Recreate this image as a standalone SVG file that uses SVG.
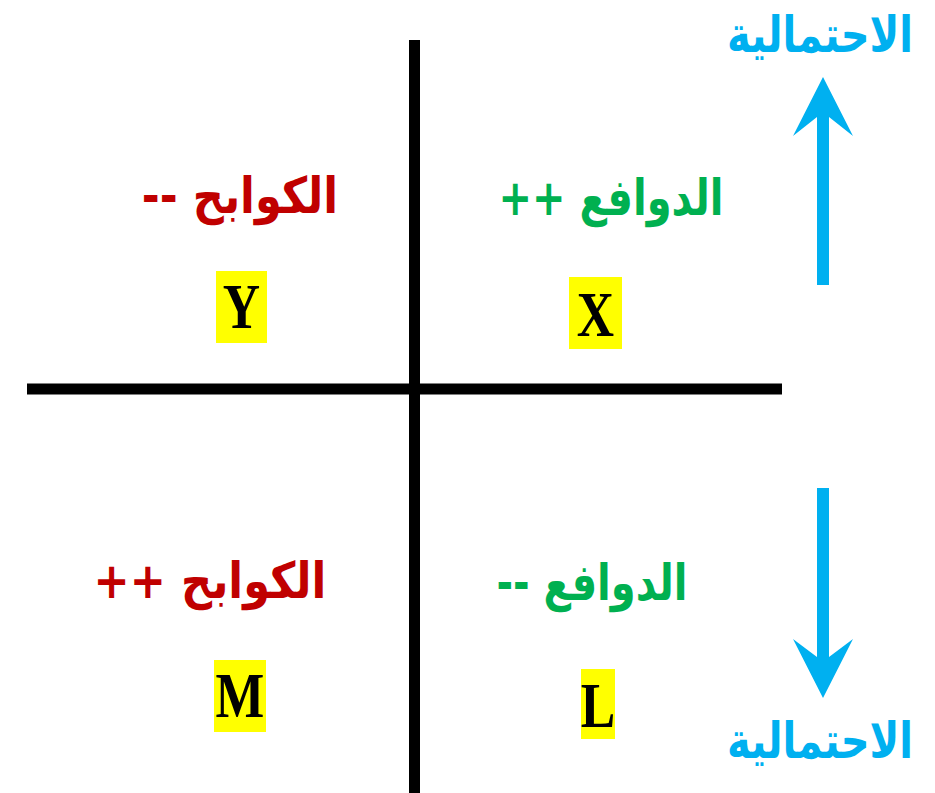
<svg xmlns="http://www.w3.org/2000/svg" width="935" height="793" viewBox="0 0 935 793">
<style>
.ar{font-family:"DejaVu Sans",sans-serif;font-weight:bold;font-size:40px;text-anchor:middle;direction:rtl;unicode-bidi:embed}
.red{fill:#C00000}
.green{fill:#00B050}
.blue{fill:#00B0F0}
.box{fill:#FFFF00}
.let{font-family:"Liberation Serif",serif;font-weight:bold;font-size:63px;text-anchor:middle;fill:#000}
.axis{stroke:#000;stroke-width:11;fill:none}
.arr{fill:#00B0F0}
</style>
<rect width="935" height="793" fill="#fff"/>
<g id="connectors">
<line class="axis" x1="414.5" y1="40" x2="414.5" y2="793"/>
<line class="axis" x1="27" y1="389" x2="782" y2="389"/>
<path id="arrow-up" class="arr" d="M817,285 L817,117 L793,136 L823,77 L853,136 L829,117 L829,285 Z"/>
<path id="arrow-down" class="arr" d="M817,488 L817,657 L793,639 L823,698 L853,639 L829,657 L829,488 Z"/>
</g>
<g id="label-top"><text class="ar blue" transform="translate(820,52) scale(1,1.25)">الاحتمالية</text></g>
<g id="label-bottom"><text class="ar blue" transform="translate(820,758) scale(1,1.25)">الاحتمالية</text></g>
<g id="q-top-left">
<text class="ar red" transform="translate(240,213) scale(1.08,1.25)">الكوابح --</text>
<rect class="box" x="216" y="271" width="51" height="72"/>
<text class="let" transform="translate(241.5,328) scale(0.82,1)">Y</text>
</g>
<g id="q-top-right">
<text class="ar green" transform="translate(611,215) scale(1,1.25)">الدوافع ++</text>
<rect class="box" x="569" y="277" width="53" height="72"/>
<text class="let" transform="translate(595.5,336) scale(0.82,1)">X</text>
</g>
<g id="q-bottom-left">
<text class="ar red" transform="translate(210,598) scale(1.08,1.25)">الكوابح ++</text>
<rect class="box" x="214" y="660" width="52" height="72"/>
<text class="let" transform="translate(240,717) scale(0.82,1)">M</text>
</g>
<g id="q-bottom-right">
<text class="ar green" transform="translate(592,600) scale(1,1.25)">الدوافع --</text>
<rect class="box" x="581" y="669" width="34" height="70"/>
<text class="let" transform="translate(598,727) scale(0.82,1)">L</text>
</g>
</svg>
